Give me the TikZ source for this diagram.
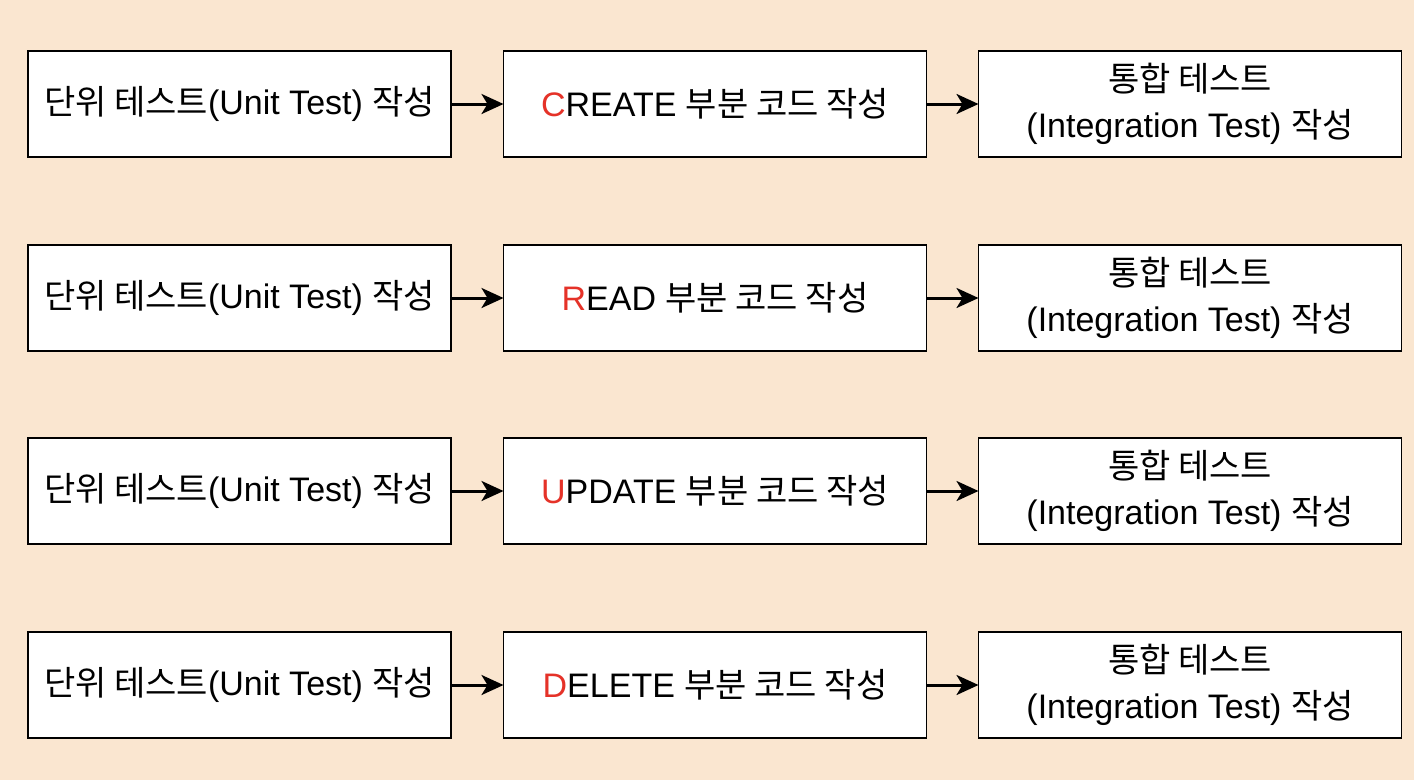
\documentclass[tikz,border=0pt]{standalone}
\usepackage{fontspec}
\setmainfont{Liberation Sans}
\newfontfamily\krfont{Noto Sans CJK KR}
\newcommand{\ko}[1]{{\krfont #1}}
\usetikzlibrary{arrows.meta}
\definecolor{peach}{RGB}{250,230,208}
\definecolor{crudred}{RGB}{229,50,40}
\tikzset{stepbox/.style={draw, fill=white, line width=1.5pt, minimum width=423pt, minimum height=106pt, inner sep=0pt, outer sep=0pt, align=center, font=\fontsize{34}{46}\selectfont}}
\tikzset{flow/.style={-{Stealth[length=22pt, width=20pt, inset=6pt]}, line width=3pt}}

\begin{document}
\begin{tikzpicture}[x=1pt, y=-1pt]

\fill[peach] (0,0) rectangle (1414,780);
\useasboundingbox (0,0) rectangle (1414,780);

\node[stepbox] (unit1) at (239.5, 104) {\ko{단위 테스트}(Unit Test) \ko{작성}};
\node[stepbox] (code1) at (715, 104) {\textcolor{crudred}{C}REATE \ko{부분 코드 작성}};
\node[stepbox] (integ1) at (1190, 104) {\ko{통합 테스트}\\(Integration Test) \ko{작성}};

\node[stepbox] (unit2) at (239.5, 298) {\ko{단위 테스트}(Unit Test) \ko{작성}};
\node[stepbox] (code2) at (715, 298) {\textcolor{crudred}{R}EAD \ko{부분 코드 작성}};
\node[stepbox] (integ2) at (1190, 298) {\ko{통합 테스트}\\(Integration Test) \ko{작성}};

\node[stepbox] (unit3) at (239.5, 491) {\ko{단위 테스트}(Unit Test) \ko{작성}};
\node[stepbox] (code3) at (715, 491) {\textcolor{crudred}{U}PDATE \ko{부분 코드 작성}};
\node[stepbox] (integ3) at (1190, 491) {\ko{통합 테스트}\\(Integration Test) \ko{작성}};

\node[stepbox] (unit4) at (239.5, 685) {\ko{단위 테스트}(Unit Test) \ko{작성}};
\node[stepbox] (code4) at (715, 685) {\textcolor{crudred}{D}ELETE \ko{부분 코드 작성}};
\node[stepbox] (integ4) at (1190, 685) {\ko{통합 테스트}\\(Integration Test) \ko{작성}};

\draw[flow] (unit1.east) -- (code1.west);
\draw[flow] (code1.east) -- (integ1.west);
\draw[flow] (unit2.east) -- (code2.west);
\draw[flow] (code2.east) -- (integ2.west);
\draw[flow] (unit3.east) -- (code3.west);
\draw[flow] (code3.east) -- (integ3.west);
\draw[flow] (unit4.east) -- (code4.west);
\draw[flow] (code4.east) -- (integ4.west);

\end{tikzpicture}
\end{document}
